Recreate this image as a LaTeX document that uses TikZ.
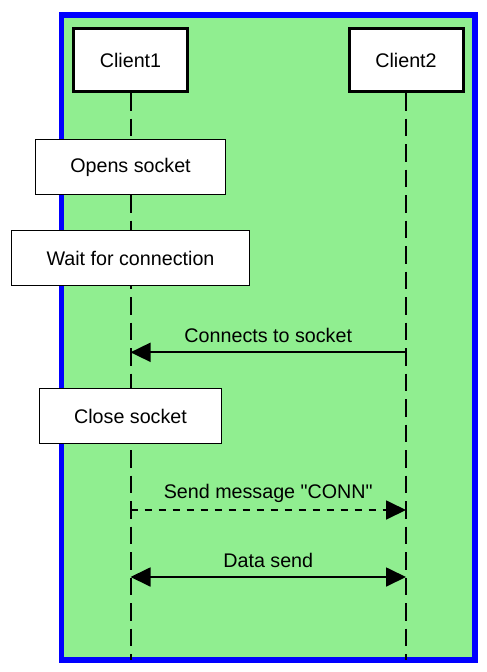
\documentclass[tikz,border=0pt]{standalone}
\usepackage{fontspec}
\newfontfamily\diagfont{Liberation Sans}
\usetikzlibrary{arrows.meta}
\definecolor{framegreen}{HTML}{90EE90}
\definecolor{frameblue}{HTML}{0000FF}
\begin{document}
\begin{tikzpicture}[x=1pt,y=-1pt,
  every node/.style={font=\diagfont\fontsize{19.7}{23}\selectfont},
  actor/.style={draw=black, fill=white, line width=3pt, minimum width=114pt, minimum height=63pt, inner sep=0pt},
  notebox/.style={draw=black, fill=white, line width=1pt, minimum height=55pt, inner sep=0pt},
  lifeline/.style={draw=black, line width=2pt, dash pattern=on 17.5pt off 8pt},
  msg/.style={draw=black, line width=1.8pt},
  tip/.style={-{Triangle[length=20pt,width=19pt]}},
  msglabel/.style={inner sep=0pt, yshift=16.5pt}
]
\useasboundingbox (0,0) rectangle (487,672);
% frame
\draw[frameblue, fill=framegreen, line width=5.8pt] (61.5,14.6) rectangle (474.8,659.8);
% actors
\node[actor] (c1) at (130.5,60) {Client1};
\node[actor] (c2) at (406,60) {Client2};
\coordinate (e1) at (130.5,660);
\coordinate (e2) at (406,660);
\draw[lifeline] (c1.south) -- (e1);
\draw[lifeline] (c2.south) -- (e2);
% notes
\node[notebox, minimum width=189.6pt] (n1) at (130.5,167.3) {Opens socket};
\node[notebox, minimum width=237.6pt, minimum height=55.7pt] (n2) at (130.5,258) {Wait for connection};
\node[notebox, minimum width=181.6pt] (n3) at (130.5,416) {Close socket};
% messages
\draw[msg, tip] (c2 |- 0,352.3) -- node[msglabel] {Connects to socket} (c1 |- 0,352.3);
\draw[msg, tip, dash pattern=on 7pt off 7pt] (c1 |- 0,510) -- node[msglabel] {Send message "CONN"} (c2 |- 0,510);
\draw[msg, {Triangle[length=20pt,width=19pt]}-{Triangle[length=20pt,width=19pt]}] (c1 |- 0,577) -- node[msglabel] {Data send} (c2 |- 0,577);
\end{tikzpicture}
\end{document}
